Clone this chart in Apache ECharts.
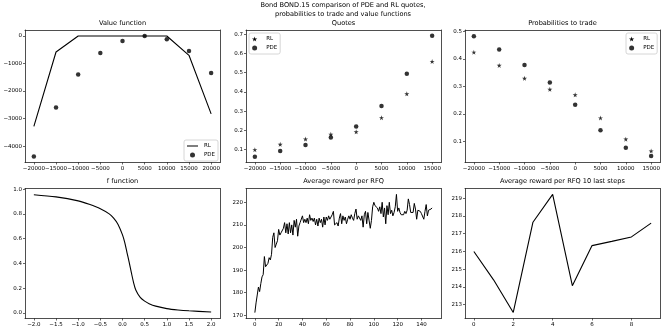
<!DOCTYPE html>
<html>
<head>
    <meta charset="UTF-8">
    <title>Bond BOND.15 comparison</title>
    <script src="https://cdn.jsdelivr.net/npm/echarts@6/dist/echarts.min.js"></script>
</head>
<body style="margin:0;background:#fff">
<div id="main" style="width:664px;height:332px"></div>
<script type="text/javascript">
    // values
    var valueX = [-20000, -15000, -10000, -5000, 0, 5000, 10000, 15000, 20000];
    var valueRL = [-3280, -580, 0, 0, 0, 0, 0, -700, -2830];
    var valuePDE = [-4375, -2600, -1400, -615, -180, 0, -120, -545, -1340];

    var quoteX = [-20000, -15000, -10000, -5000, 0, 5000, 10000, 15000];
    var quoteRL = [0.100, 0.128, 0.155, 0.180, 0.193, 0.266, 0.390, 0.558];
    var quotePDE = [0.064, 0.093, 0.125, 0.164, 0.221, 0.327, 0.494, 0.691];

    var probRL = [0.424, 0.376, 0.329, 0.289, 0.269, 0.185, 0.108, 0.065];
    var probPDE = [0.482, 0.434, 0.378, 0.314, 0.233, 0.140, 0.077, 0.047];

    var fX = [-2.0, -1.5, -1.0, -0.75, -0.5, -0.3, -0.2, -0.1, 0.0, 0.05, 0.1, 0.15, 0.2, 0.25, 0.3, 0.4, 0.5, 0.6, 0.75, 1.0, 1.25, 1.5, 2.0];
    var fY = [0.955, 0.937, 0.905, 0.877, 0.842, 0.80, 0.765, 0.715, 0.63, 0.57, 0.49, 0.41, 0.325, 0.245, 0.185, 0.125, 0.095, 0.075, 0.055, 0.035, 0.024, 0.017, 0.008];

    var reward = [171.2, 175.5, 179, 182.5, 180.5, 184, 187, 188, 196, 191.5,
        191, 193, 195.5, 194.5, 197, 204.5, 206.5, 200, 201.5, 203,
        208, 205.5, 206.5, 207, 208.5, 211, 206.5, 210.5, 206, 211,
        206.5, 210, 205.5, 212, 209, 212.5, 205, 209.5, 211, 210.5,
        214, 211, 212.5, 211, 213, 210.5, 214.5, 212, 213, 211.5,
        213, 210, 212.5, 209.5, 213, 211, 212.5, 209, 213.5, 210,
        213.5, 212, 214, 212.5, 213, 214.5, 216, 210, 209.5, 211,
        209.5, 213, 215, 210.5, 214, 212, 213.5, 210.5, 212.5, 214,
        212.5, 214.5, 213, 212, 215, 217, 212.5, 214, 213.5, 212,
        214, 209, 214.5, 216, 210.5, 215.5, 216, 208.5, 212, 218,
        220, 218.5, 219, 217.5, 216, 218, 215, 220, 213.5, 217.5,
        210.5, 218.5, 214.5, 220, 215, 216.5, 214, 215.5, 218, 223.5,
        216, 217.5, 215.5, 214.5, 215, 214.5, 216, 215, 216.5, 221.5,
        219, 215.5, 216, 215.5, 219.5, 217, 212.5, 216.5, 217, 216,
        215, 214.5, 212.5, 216, 219, 214, 216.5, 216, 217, 217.5];

    var last10 = [216.0, 214.4, 212.56, 217.65, 219.22, 214.07, 216.33, 216.57, 216.82, 217.6];

    var valueTicksX = [-20000, -15000, -10000, -5000, 0, 5000, 10000, 15000, 20000];
    var valueTicksY = [-4000, -3000, -2000, -1000, 0];
    var quoteTicksX = [-20000, -15000, -10000, -5000, 0, 5000, 10000, 15000];
    var quoteTicksY = [0.1, 0.2, 0.3, 0.4, 0.5, 0.6, 0.7];
    var probTicksY = [0.1, 0.2, 0.3, 0.4, 0.5];
    var fTicksX = [-2.0, -1.5, -1.0, -0.5, 0.0, 0.5, 1.0, 1.5, 2.0];
    var fTicksY = [0.0, 0.2, 0.4, 0.6, 0.8, 1.0];
    var rewardTicksX = [0, 20, 40, 60, 80, 100, 120, 140];
    var rewardTicksY = [170, 180, 190, 200, 210, 220];
    var lastTicksX = [0, 2, 4, 6, 8];
    var lastTicksY = [213, 214, 215, 216, 217, 218, 219];

    var star = 'path://M50,0 L61,35 L98,35 L68,57 L79,91 L50,70 L21,91 L32,57 L2,35 L39,35 Z';
    // thin line legend icon; tiny corner triangles keep the box size
    var thinLine = 'path://M0,0 L0.1,0 L0,0.1 Z M0,4 L22,4 L22,6 L0,6 Z M21.9,9.9 L22,10 L21.9,10 Z';
    var FONT = 'DejaVu Sans';

    function pairs(xs, ys) {
        return xs.map(function (x, i) { return [x, ys[i]]; });
    }
    function minus(s) { return String(s).replace('-', '\u2212'); }

    function axis(idx, min, max, ticks, fmt) {
        return {
            type: 'value', gridIndex: idx, min: min, max: max,
            splitLine: {show: false},
            axisLine: {show: true, onZero: false, lineStyle: {color: '#222', width: 0.8}},
            axisTick: {show: true, length: 2, customValues: ticks, lineStyle: {color: '#000', width: 0.6}},
            axisLabel: {
                customValues: ticks, margin: 3, fontSize: 5.5, color: '#000', fontFamily: FONT,
                hideOverlap: false,
                formatter: function (v) { return minus(fmt ? fmt(v) : v); }
            }
        };
    }
    // top / right edges of the box
    function edge(idx, min, max, pos) {
        return {
            type: 'value', gridIndex: idx, min: min, max: max, position: pos,
            splitLine: {show: false}, axisTick: {show: false}, axisLabel: {show: false},
            axisLine: {show: true, onZero: false, lineStyle: {color: '#222', width: 0.8}}
        };
    }
    var f1 = function (v) { return v.toFixed(1); };

    var xr = [[-22000, 22000], [-21750, 16750], [-21750, 16750], [-2.2, 2.2], [-7.45, 156.45], [-0.45, 9.45]];
    var yr = [[-4595, 219], [0.0336, 0.7215], [0.0232, 0.5048], [-0.045, 1.005], [168.6, 226.1], [212.22, 219.55]];

    var cols = [25, 246, 465];
    var rows = [30, 188.5];
    var grids = [];
    rows.forEach(function (t, r) {
        cols.forEach(function (l) {
            grids.push({left: l, top: t, width: 195, height: r === 0 ? 132.5 : 130});
        });
    });

    function subTitle(text, cx, top) {
        return {text: text, left: cx, top: top, textAlign: 'center', padding: 0,
            textStyle: {fontSize: 6.6, fontWeight: 'normal', color: '#000', fontFamily: FONT}};
    }

    var legendBase = {
        orient: 'vertical', itemWidth: 11, itemHeight: 5, itemGap: 3,
        padding: [3, 3, 3, 3], borderColor: '#ccc', borderWidth: 0.8, borderRadius: 2,
        backgroundColor: '#fff', selectedMode: false,
        textStyle: {fontSize: 5.5, color: '#000', fontFamily: FONT, padding: [0, 0, 0, 1]}
    };

    var xAxes = [
        axis(0, xr[0][0], xr[0][1], valueTicksX),
        axis(1, xr[1][0], xr[1][1], quoteTicksX),
        axis(2, xr[2][0], xr[2][1], quoteTicksX),
        axis(3, xr[3][0], xr[3][1], fTicksX, f1),
        axis(4, xr[4][0], xr[4][1], rewardTicksX),
        axis(5, xr[5][0], xr[5][1], lastTicksX)
    ];
    var yAxes = [
        axis(0, yr[0][0], yr[0][1], valueTicksY),
        axis(1, yr[1][0], yr[1][1], quoteTicksY, f1),
        axis(2, yr[2][0], yr[2][1], probTicksY, f1),
        axis(3, yr[3][0], yr[3][1], fTicksY, f1),
        axis(4, yr[4][0], yr[4][1], rewardTicksY),
        axis(5, yr[5][0], yr[5][1], lastTicksY)
    ];
    for (var i = 0; i < 6; i++) {
        xAxes.push(edge(i, xr[i][0], xr[i][1], 'top'));
        yAxes.push(edge(i, yr[i][0], yr[i][1], 'right'));
    }

    var myChart = echarts.init(document.getElementById('main'));
    var option = {
        animation: false,
        title: [
            {text: 'Bond BOND.15 comparison of PDE and RL quotes,\nprobabilities to trade and value functions',
                left: 343, top: 1, textAlign: 'center', padding: 0,
                textStyle: {fontSize: 6.6, fontWeight: 'normal', color: '#000', fontFamily: FONT, lineHeight: 8.6}},
            subTitle('Value function', 122.5, 19.5),
            subTitle('Quotes', 343.5, 19.5),
            subTitle('Probabilities to trade', 562.5, 19.5),
            subTitle('f function', 122.5, 177.5),
            subTitle('Average reward per RFQ', 343.5, 177.5),
            subTitle('Average reward per RFQ 10 last steps', 562.5, 177.5)
        ],
        legend: [
            Object.assign({}, legendBase, {left: 184, top: 140, data: [{name: 'RL', icon: thinLine, itemStyle: {color: '#000'}}, {name: 'PDE', icon: 'circle'}]}),
            Object.assign({}, legendBase, {left: 249, top: 33, data: [{name: 'RL', icon: star}, {name: 'PDE', icon: 'circle'}]}),
            Object.assign({}, legendBase, {left: 626, top: 33, data: [{name: 'RL', icon: star}, {name: 'PDE', icon: 'circle'}]})
        ],
        grid: grids,
        xAxis: xAxes,
        yAxis: yAxes,
        series: [
            {name: 'RL', type: 'line', xAxisIndex: 0, yAxisIndex: 0, symbol: 'none',
                lineStyle: {color: '#000', width: 1.1}, itemStyle: {color: '#000'}, data: pairs(valueX, valueRL)},
            {name: 'PDE', type: 'scatter', xAxisIndex: 0, yAxisIndex: 0, symbol: 'circle', symbolSize: 4.5,
                itemStyle: {color: '#000'}, data: pairs(valueX, valuePDE)},
            {name: 'RL', type: 'scatter', xAxisIndex: 1, yAxisIndex: 1, symbol: star, symbolSize: 5,
                itemStyle: {color: '#000'}, data: pairs(quoteX, quoteRL)},
            {name: 'PDE', type: 'scatter', xAxisIndex: 1, yAxisIndex: 1, symbol: 'circle', symbolSize: 4.5,
                itemStyle: {color: '#000'}, data: pairs(quoteX, quotePDE)},
            {name: 'RL', type: 'scatter', xAxisIndex: 2, yAxisIndex: 2, symbol: star, symbolSize: 5,
                itemStyle: {color: '#000'}, data: pairs(quoteX, probRL)},
            {name: 'PDE', type: 'scatter', xAxisIndex: 2, yAxisIndex: 2, symbol: 'circle', symbolSize: 4.5,
                itemStyle: {color: '#000'}, data: pairs(quoteX, probPDE)},
            {name: 'f', type: 'line', xAxisIndex: 3, yAxisIndex: 3, symbol: 'none', smooth: 0.3,
                lineStyle: {color: '#000', width: 1.1}, data: pairs(fX, fY)},
            {name: 'reward', type: 'line', xAxisIndex: 4, yAxisIndex: 4, symbol: 'none',
                lineStyle: {color: '#000', width: 1}, data: reward.map(function (v, i) { return [i, v]; })},
            {name: 'last10', type: 'line', xAxisIndex: 5, yAxisIndex: 5, symbol: 'none',
                lineStyle: {color: '#000', width: 1.1}, data: last10.map(function (v, i) { return [i, v]; })}
        ]
    };
    myChart.setOption(option);
</script>
</body>
</html>
